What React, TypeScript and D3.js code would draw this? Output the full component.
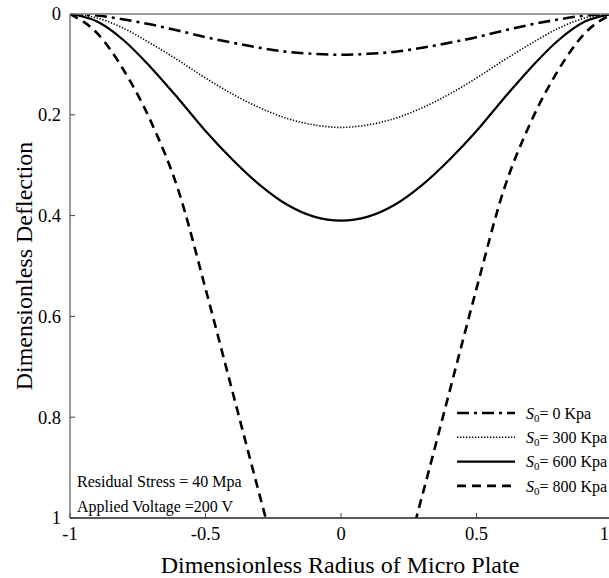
import React from "react";
import * as d3 from "d3";

// dimensionless radius samples
const radius = [-1, -0.9, -0.8, -0.7, -0.6, -0.5, -0.4, -0.3, -0.2, -0.1, 0, 0.1, 0.2, 0.3, 0.4, 0.5, 0.6, 0.7, 0.8, 0.9, 1];

// deflection, one list per S0
const defl0 = [0, 0.003, 0.011, 0.021, 0.033, 0.046, 0.057, 0.067, 0.075, 0.079, 0.081, 0.079, 0.075, 0.067, 0.057, 0.046, 0.033, 0.021, 0.011, 0.003, 0];
const defl300 = [0, 0.008, 0.029, 0.059, 0.092, 0.127, 0.159, 0.186, 0.207, 0.22, 0.225, 0.22, 0.207, 0.186, 0.159, 0.127, 0.092, 0.059, 0.029, 0.008, 0];
const defl600 = [0, 0.015, 0.053, 0.107, 0.168, 0.232, 0.289, 0.339, 0.378, 0.402, 0.41, 0.402, 0.378, 0.339, 0.289, 0.232, 0.168, 0.107, 0.053, 0.015, 0];
const defl800 = [0, 0.038, 0.113, 0.215, 0.35, 0.545, 0.75, 0.955, 1.15, 1.28, 1.32, 1.28, 1.15, 0.955, 0.75, 0.545, 0.35, 0.215, 0.113, 0.038, 0];

const legendLabels = ["= 0 Kpa", "= 300 Kpa", "= 600 Kpa", "= 800 Kpa"];
const xTicks = [-1, -0.5, 0, 0.5, 1];
const yTicks = [0, 0.2, 0.4, 0.6, 0.8, 1];

const series = [
  { values: defl0, dash: "12,5,3,5", width: 2.6 },
  { values: defl300, dash: "1.3,1.7", width: 1.6 },
  { values: defl600, dash: null, width: 2.2 },
  { values: defl800, dash: "9,6", width: 2.6 },
];

const serif = { fontFamily: "Liberation Serif, DejaVu Serif, serif" };

export default function App() {
  const W = 609, H = 578;
  const left = 70, right = 612, top = 14, bottom = 518;

  const x = d3.scaleLinear().domain([-1, 1]).range([left, right]);
  const y = d3.scaleLinear().domain([0, 1]).range([top, bottom]);

  const line = (vals: number[]) =>
    d3.line<number>()
      .x((_, i) => x(radius[i]))
      .y((d) => y(d))
      .curve(d3.curveMonotoneX)(vals) || "";

  return (
    <svg width={W} height={H} style={{ position: "absolute", left: 0, top: 0, background: "#fff" }}>
      <defs>
        <clipPath id="plot">
          <rect x={left} y={top} width={right - left} height={bottom - top} />
        </clipPath>
      </defs>

      <g clipPath="url(#plot)">
        {series.map((s, i) => (
          <path key={i} d={line(s.values)} fill="none" stroke="#000"
            strokeWidth={s.width} strokeDasharray={s.dash || undefined} />
        ))}
      </g>

      {/* frame */}
      <line x1={left} x2={W} y1={top} y2={top} stroke="#777" strokeWidth={1.5} />
      <line x1={left} x2={left} y1={top} y2={bottom} stroke="#777" strokeWidth={1.5} />
      <line x1={left} x2={W} y1={bottom} y2={bottom} stroke="#222" strokeWidth={1.5} />

      {yTicks.map((t) => (
        <g key={t}>
          <line x1={left} x2={left + 5} y1={y(t)} y2={y(t)} stroke="#444" />
          <text x={61} y={y(t)} dy="0.35em" textAnchor="end" fontSize={18.5} style={serif}>{t}</text>
        </g>
      ))}
      {xTicks.map((t) => (
        <g key={t}>
          <line x1={x(t)} x2={x(t)} y1={bottom} y2={bottom - 5} stroke="#444" />
          <text x={t === 1 ? 609 : x(t)} y={540} textAnchor={t === 1 ? "end" : "middle"} fontSize={18.5} style={serif}>{t}</text>
        </g>
      ))}

      <text x={340} y={573} textAnchor="middle" fontSize={24} style={serif}>Dimensionless Radius of Micro Plate</text>
      <text transform={`translate(32,${(top + bottom) / 2}) rotate(-90)`} textAnchor="middle" fontSize={24} style={serif}>
        Dimensionless Deflection
      </text>

      <text x={77} y={487} fontSize={16} style={serif}>Residual Stress = 40 Mpa</text>
      <text x={77} y={512} fontSize={16} style={serif}>Applied Voltage =200 V</text>

      {series.map((s, i) => {
        const ly = 413 + i * 24.3;
        return (
          <g key={i}>
            <line x1={457} x2={515} y1={ly} y2={ly} stroke="#000" strokeWidth={s.width}
              strokeDasharray={s.dash || undefined} />
            <text x={526} y={ly} dy="0.35em" fontSize={16} style={serif}>
              <tspan fontStyle="italic">S</tspan>
              <tspan fontSize={11} dy={3}>0</tspan>
              <tspan dy={-3}>{legendLabels[i]}</tspan>
            </text>
          </g>
        );
      })}
    </svg>
  );
}
